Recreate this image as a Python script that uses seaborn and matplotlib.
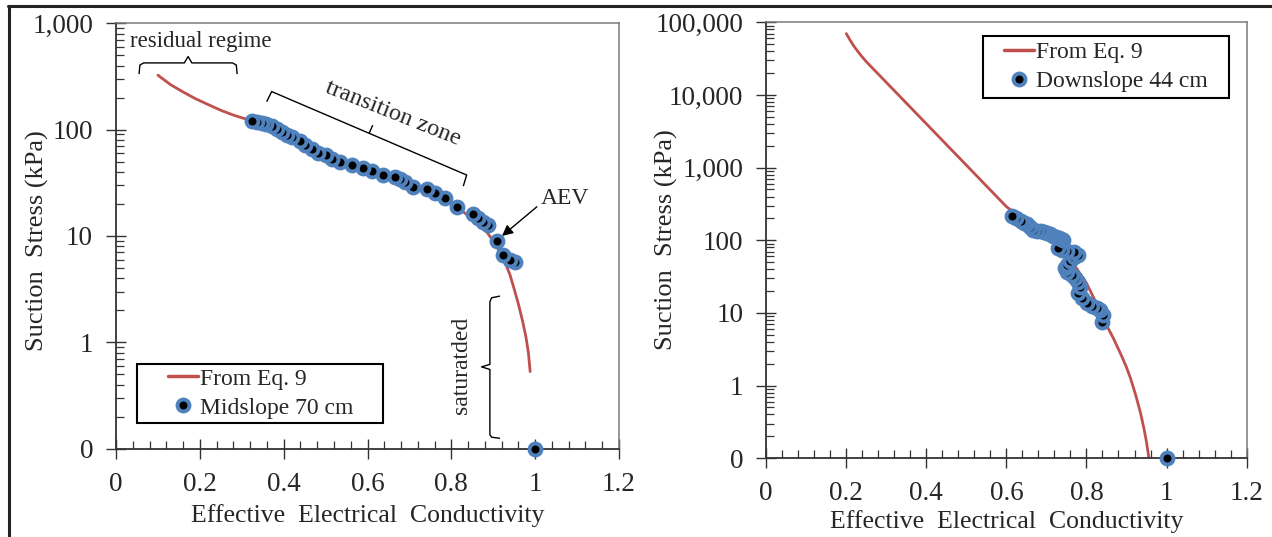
import numpy as np
import matplotlib
matplotlib.use("Agg")
import matplotlib.pyplot as plt
import matplotlib.ticker as mticker
from matplotlib.lines import Line2D
from matplotlib.patches import Rectangle
import seaborn as sns

# ---------------- data ----------------
# Left panel: Midslope 70 cm
mid_curve_x = [0.10, 0.13, 0.16, 0.19, 0.22, 0.25, 0.28, 0.32, 0.36, 0.40, 0.45, 0.50, 0.55,
               0.60, 0.65, 0.70, 0.75, 0.80, 0.85, 0.88, 0.90, 0.92, 0.93, 0.94, 0.95,
               0.96, 0.97, 0.978, 0.984, 0.988]
mid_curve_y = [325, 265, 226, 195, 172, 152, 137, 122, 106, 92, 73, 58, 48,
               42, 37, 32, 26.5, 20.5, 14.5, 11.5, 9.0, 6.6, 5.4, 4.3, 3.16,
               2.29, 1.58, 1.12, 0.79, 0.53]
mid_pts_x = [1.000, 0.952, 0.940, 0.924, 0.908, 0.888, 0.876, 0.864, 0.852, 0.813, 0.785,
             0.761, 0.741, 0.709, 0.689, 0.677, 0.666, 0.638, 0.610, 0.590, 0.562, 0.534,
             0.515, 0.501, 0.483, 0.467, 0.451, 0.439, 0.419, 0.407, 0.395, 0.383, 0.371,
             0.359, 0.348, 0.336, 0.324]
mid_pts_y = [0, 5.7, 5.9, 6.6, 9.0, 12.7, 13.6, 14.7, 16.1, 18.6, 22.6,
             25.5, 27.4, 28.7, 32.4, 34.0, 35.6, 37.4, 41.0, 43.2, 46.4, 49.9,
             52.6, 57.7, 59.8, 65.3, 71.7, 78.7, 84.7, 88.9, 95.5, 101, 108,
             113, 116, 119, 121]

# Right panel: Downslope 44 cm
down_curve_x = [0.20, 0.21, 0.22, 0.235, 0.25, 0.27, 0.30, 0.40, 0.50, 0.60, 0.65, 0.70,
                0.75, 0.80, 0.825, 0.85, 0.867, 0.88, 0.89, 0.90, 0.91, 0.923, 0.935,
                0.944, 0.95, 0.956]
down_curve_y = [70000, 56200, 46200, 35900, 28700, 22100, 14900, 4010, 1080, 290, 180, 116,
                66, 25.7, 13.5, 6.8, 4.5, 3.16, 2.4, 1.78, 1.26, 0.74, 0.42,
                0.25, 0.166, 0]
down_pts_x = [1.000, 0.838, 0.842, 0.834, 0.826, 0.813, 0.801, 0.788, 0.780, 0.784, 0.780,
              0.772, 0.763, 0.752, 0.747, 0.752, 0.760, 0.770, 0.780, 0.768, 0.752, 0.740,
              0.730, 0.742, 0.737, 0.732, 0.725, 0.717, 0.710, 0.702, 0.695, 0.687, 0.677,
              0.667, 0.660, 0.652, 0.645, 0.636, 0.625, 0.614]
down_pts_y = [0, 7.6, 9.4, 11.0, 11.6, 12.3, 13.6, 16.0, 18.7, 23, 27,
              30, 33, 36, 41, 46, 52, 58, 63, 68, 71, 74,
              78, 101, 104, 107, 110, 114, 120, 126, 130, 133, 136,
              138, 150, 166, 175, 185, 200, 213]

x_ticks = [0, 0.2, 0.4, 0.6, 0.8, 1.0, 1.2]
left_y_ticks = [0, 1, 10, 100, 1000]
right_y_ticks = [0, 1, 10, 100, 1000, 10000, 100000]
x_label = "Effective  Electrical  Conductivity"
y_label = "Suction  Stress (kPa)"
line_label = "From Eq. 9"
left_pts_label = "Midslope 70 cm"
right_pts_label = "Downslope 44 cm"

# ---------------- style ----------------
RED = "#C0504D"
BLUE = "#4F81BD"
FRAME = "#7a7a7a"
ZERO = 0.1  # the log axis floor is labelled "0"

sns.set_theme(style="white")
plt.rcParams["font.family"] = ["Liberation Serif", "DejaVu Serif"]
plt.rcParams["axes.unicode_minus"] = False

W, H = 1272, 537
fig = plt.figure(figsize=(W / 100, H / 100), dpi=100)


def fx(px):
    return px / W


def fy(py):
    return 1 - py / H


ax1 = fig.add_axes([fx(116), fy(448.6), (619 - 116) / W, (448.6 - 23.3) / H])
ax2 = fig.add_axes([fx(766.2), fy(458.2), (1246.6 - 766.2) / W, (458.2 - 22.3) / H])


def floor0(v):
    v = np.asarray(v, dtype=float)
    return np.where(v <= 0, ZERO, v)


def ytick_fmt(v, pos):
    if abs(v - ZERO) < 1e-9:
        return "0"
    return f"{v:,.0f}"


MS = 8.6
MEW = 2.8
S = MS ** 2


def draw_panel(ax, cx, cy, px, py, yticks):
    sns.lineplot(x=np.asarray(cx), y=floor0(cy), ax=ax, color=RED, lw=2.0,
                 sort=False, estimator=None, legend=False, zorder=2)
    sns.scatterplot(x=np.asarray(px), y=floor0(py), ax=ax, s=S, color="black",
                    edgecolor=BLUE, linewidth=MEW, legend=False, zorder=3,
                    clip_on=False)
    ax.set_yscale("log")
    ax.set_xlim(0, 1.2)
    ax.set_ylim(ZERO, max(yticks))
    ax.set_xticks(x_ticks)
    ax.xaxis.set_major_formatter(mticker.FuncFormatter(lambda v, p: f"{v:g}"))
    ax.xaxis.set_minor_locator(mticker.MultipleLocator(0.04))
    ax.set_yticks([ZERO if t == 0 else t for t in yticks])
    ax.yaxis.set_major_formatter(mticker.FuncFormatter(ytick_fmt))
    ax.yaxis.set_minor_locator(mticker.LogLocator(base=10, subs=np.arange(2, 10)))
    ax.yaxis.set_minor_formatter(mticker.NullFormatter())
    ax.tick_params(axis="both", which="major", direction="inout", length=15,
                   width=1.0, color="#333333", labelsize=19.5,
                   bottom=True, left=True)
    ax.tick_params(axis="x", which="major", pad=9)
    ax.tick_params(axis="y", which="major", pad=9)
    ax.tick_params(axis="both", which="minor", direction="in", length=6,
                   width=0.9, color="#333333", bottom=True, left=True)
    for side in ("left", "bottom"):
        ax.spines[side].set_color("#333333")
        ax.spines[side].set_linewidth(1.3)
    for side in ("top", "right"):
        ax.spines[side].set_color(FRAME)
        ax.spines[side].set_linewidth(1.1)
    ax.set_xlabel(x_label, fontsize=18.5)
    ax.set_ylabel(y_label, fontsize=19)
    ax.xaxis.label.set_va("center")
    ax.yaxis.label.set_va("center")
    ax.grid(False)
    ax.set_facecolor("white")


draw_panel(ax1, mid_curve_x, mid_curve_y, mid_pts_x, mid_pts_y, left_y_ticks)
draw_panel(ax2, down_curve_x, down_curve_y, down_pts_x, down_pts_y, right_y_ticks)

ax1.xaxis.set_label_coords(0.5, (448.6 - 515.5) / 425.3)
ax1.yaxis.set_label_coords((37 - 116) / 503, 0.488)
ax2.xaxis.set_label_coords(0.5, (458.2 - 522) / 435.9)
ax2.yaxis.set_label_coords((666 - 766.2) / 480.4, 0.501)

# ---------------- annotations (left panel) ----------------
ann = dict(color="black", lw=1.0, solid_capstyle="butt", zorder=4)
# residual regime brace
ax1.plot([0.055, 0.057, 0.066, 0.163, 0.172, 0.181, 0.278, 0.287, 0.289],
         [333, 405, 424, 424, 487, 424, 424, 405, 333], **ann)
ax1.text(0.203, 670, "residual regime", fontsize=16.5, ha="center", va="center")
# transition zone brace
ax1.plot([0.3595, 0.3714, 0.8366, 0.8285], [183, 228, 37.4, 29.4], **ann)
ax1.plot([0.604, 0.6124], [92.4, 110], **ann)
ax1.text(0.6615, 142, "transition zone", fontsize=17.5, rotation=-21.7,
         ha="center", va="center", rotation_mode="anchor")
# AEV arrow
ax1.annotate("", xy=(0.921, 10.0), xytext=(1.004, 18.8),
             arrowprops=dict(arrowstyle="-|>", color="black", lw=1.0,
                             shrinkA=0, shrinkB=0, mutation_scale=16))
ax1.text(1.071, 22.4, "AEV", fontsize=17, ha="center", va="center")
# saturated brace
ax1.plot([0.916, 0.896, 0.892, 0.892, 0.872, 0.892, 0.892, 0.896, 0.916],
         [2.72, 2.62, 2.4, 0.62, 0.587, 0.555, 0.135, 0.128, 0.125], **ann)
ax1.text(0.8247, 0.61, "saturatded", fontsize=17, rotation=90,
         ha="center", va="center")

# ---------------- legends ----------------
line_h = Line2D([], [], color=RED, lw=2.5)
pt_h = Line2D([], [], color="none", marker="o", markerfacecolor="black",
              markeredgecolor=BLUE, markersize=MS, markeredgewidth=MEW)


def add_legend(ax, label, box, anchor):
    x0, y0, x1, y1 = box
    ax.add_patch(Rectangle((fx(x0), fy(y1)), (x1 - x0) / W, (y1 - y0) / H,
                           transform=fig.transFigure, fill=True, clip_on=False,
                           facecolor="white", edgecolor="black", lw=1.5,
                           zorder=5))
    leg = ax.legend([line_h, pt_h], [line_label, label], loc="center left",
                    bbox_to_anchor=anchor, bbox_transform=fig.transFigure,
                    frameon=False, fontsize=17, handlelength=1.25,
                    handletextpad=0.1, labelspacing=0.32, borderpad=0,
                    borderaxespad=0)
    leg.set_zorder(6)
    return leg


add_legend(ax1, left_pts_label, (136.7, 364, 383.3, 422.7),
           (fx(168.3), fy((378.3 + 408.3) / 2)))
add_legend(ax2, right_pts_label, (982.6, 36, 1228.5, 98.3),
           (fx(1004), fy((51.4 + 82.2) / 2)))

# ---------------- outer border ----------------
fig.add_artist(Line2D([fx(8), fx(1272)], [fy(6), fy(6)], color="#222222", lw=2.2,
                      transform=fig.transFigure))
fig.add_artist(Line2D([fx(9), fx(9)], [fy(6), fy(537)], color="#222222", lw=2.2,
                      transform=fig.transFigure))

fig.savefig("out.png", dpi=100, facecolor="white")
